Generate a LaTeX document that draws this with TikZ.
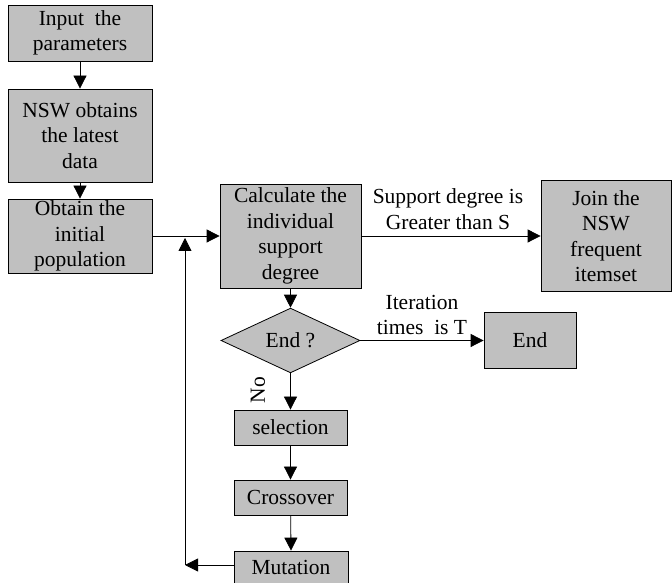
\documentclass[tikz,border=0pt]{standalone}
\usepackage{fontspec}
\setmainfont{Liberation Serif}
\usetikzlibrary{arrows.meta,shapes.geometric}
\definecolor{boxgray}{RGB}{192,192,192}
\tikzset{
  box/.style={draw=black, fill=boxgray, line width=0.8pt, inner sep=0pt,
    align=center, font=\fontsize{21.5}{25.5}\selectfont},
  decision/.style={diamond, draw=black, fill=boxgray, line width=0.8pt,
    inner sep=0pt, font=\fontsize{21.5}{25.5}\selectfont},
  flow/.style={line width=0.8pt, -{Triangle[length=13pt,width=13pt]}},
  lbl/.style={align=center, font=\fontsize{21.5}{25.5}\selectfont, inner sep=0pt}
}
\begin{document}
\begin{tikzpicture}[x=1pt,y=1pt]
\useasboundingbox (0,0) rectangle (672,583);
\clip (0,0) rectangle (672,583);

% main column on the left
\node[box, minimum width=144pt, minimum height=56pt] (input) at (80,550) {Input~~the\\parameters};
\node[box, minimum width=144pt, minimum height=93pt] (data) at (80,447.5) {NSW obtains\\the latest\\data};
\node[box, minimum width=144pt, minimum height=74pt] (init) at (80,347) {Obtain the\\initial\\population};

% evaluation and decision
\node[box, minimum width=141pt, minimum height=104pt] (calc) at (290.5,347) {Calculate the\\individual\\support\\degree};
\node[box, minimum width=130pt, minimum height=111pt] (join) at (606,347) {Join the\\NSW\\frequent\\itemset};
\node[decision, minimum width=139pt, minimum height=55pt] (isend) at (290.5,242.5) {End ?};
\node[box, minimum width=92pt, minimum height=56pt] (stop) at (530,242.5) {End};

% genetic operators
\node[box, minimum width=113pt, minimum height=35pt] (sel) at (290.5,155.5) {selection};
\node[box, minimum width=113pt, minimum height=35pt] (cross) at (290.5,85.5) {Crossover};
\node[box, minimum width=114pt, minimum height=40pt] (mut) at (291,12) {};
\node[lbl] at (291,16) {Mutation};

% connectors
\draw[flow] (input) -- (data);
\draw[flow] (data) -- (init);
\draw[flow] (init.east) -- (calc.west);
\draw[flow] (calc.east) -- (join.west);
\draw[flow] (calc) -- (isend);
\draw[flow] (isend.east) -- (stop.west);
\draw[flow] (isend) -- (sel);
\draw[flow] (sel) -- (cross);
\draw[flow] (cross) -- (mut.north);

% feedback loop from mutation back to evaluation
\coordinate (loopcorner) at (185,18);
\coordinate (looptop) at (185,345);
\draw[flow] (mut.west |- loopcorner) -- (loopcorner);
\draw[flow] (loopcorner) -- (looptop);

% labels on the connectors
\node[lbl] at (448,374) {Support degree is\\Greater than S};
\node[lbl] at (422,268) {Iteration\\times~~is T};
\node[lbl, rotate=90] at (258,193) {No};
\end{tikzpicture}
\end{document}
